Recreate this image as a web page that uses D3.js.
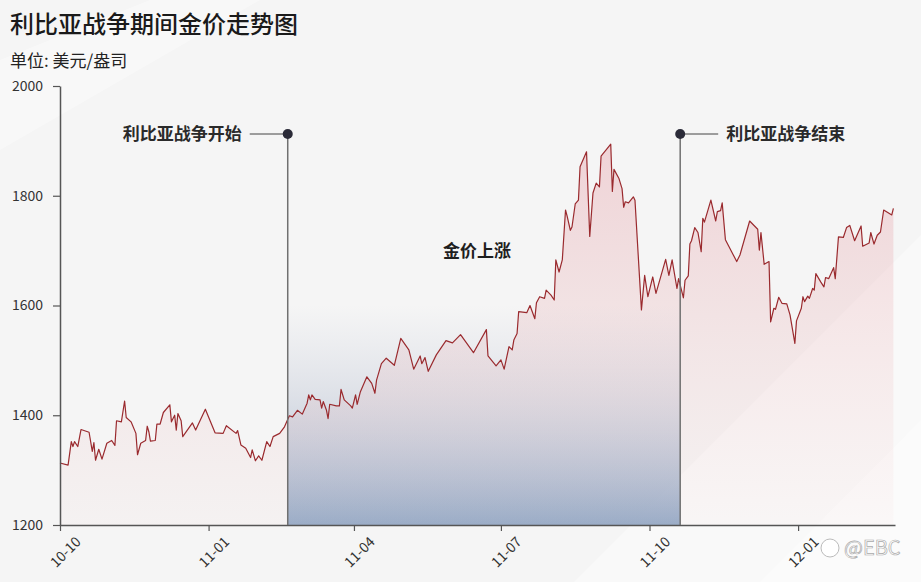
<!DOCTYPE html>
<html><head><meta charset="utf-8">
<script src="https://cdn.jsdelivr.net/npm/d3@7"></script>
<style>
html,body{margin:0;padding:0;background:#f6f6f6;}
svg{display:block;font-family:"Noto Sans CJK SC","Noto Sans",sans-serif;}
</style></head>
<body><svg id="c" width="921" height="582"></svg>
<script>
const title = "利比亚战争期间金价走势图";
const subtitle = "单位: 美元/盎司";
const dates = ["2010-10-01","2010-10-06","2010-10-08","2010-10-09","2010-10-10","2010-10-12","2010-10-14","2010-10-19","2010-10-21","2010-10-22","2010-10-23","2010-10-25","2010-10-27","2010-10-30","2010-11-02","2010-11-04","2010-11-05","2010-11-08","2010-11-10","2010-11-11","2010-11-14","2010-11-17","2010-11-18","2010-11-20","2010-11-23","2010-11-24","2010-11-25","2010-11-26","2010-11-29","2010-11-30","2010-12-02","2010-12-04","2010-12-08","2010-12-09","2010-12-11","2010-12-12","2010-12-13","2010-12-15","2010-12-16","2010-12-22","2010-12-24","2010-12-30","2011-01-05","2011-01-10","2011-01-12","2011-01-18","2011-01-19","2011-01-21","2011-01-24","2011-01-27","2011-01-28","2011-01-30","2011-02-01","2011-02-03","2011-02-06","2011-02-08","2011-02-10","2011-02-14","2011-02-17","2011-02-20","2011-02-22","2011-02-25","2011-02-28","2011-03-03","2011-03-04","2011-03-05","2011-03-06","2011-03-08","2011-03-11","2011-03-12","2011-03-13","2011-03-15","2011-03-16","2011-03-17","2011-03-21","2011-03-23","2011-03-24","2011-03-26","2011-03-30","2011-03-31","2011-04-02","2011-04-03","2011-04-05","2011-04-09","2011-04-12","2011-04-14","2011-04-15","2011-04-18","2011-04-21","2011-04-26","2011-04-30","2011-05-05","2011-05-08","2011-05-12","2011-05-13","2011-05-15","2011-05-17","2011-05-22","2011-05-28","2011-06-01","2011-06-06","2011-06-14","2011-06-22","2011-06-23","2011-06-28","2011-07-01","2011-07-03","2011-07-06","2011-07-08","2011-07-09","2011-07-11","2011-07-12","2011-07-17","2011-07-19","2011-07-22","2011-07-23","2011-07-25","2011-07-28","2011-07-29","2011-08-01","2011-08-03","2011-08-04","2011-08-06","2011-08-08","2011-08-10","2011-08-11","2011-08-13","2011-08-14","2011-08-16","2011-08-18","2011-08-19","2011-08-23","2011-08-25","2011-08-27","2011-08-29","2011-08-31","2011-09-01","2011-09-07","2011-09-08","2011-09-09","2011-09-12","2011-09-14","2011-09-15","2011-09-16","2011-09-18","2011-09-21","2011-09-22","2011-09-26","2011-09-28","2011-09-30","2011-10-03","2011-10-05","2011-10-11","2011-10-13","2011-10-15","2011-10-18","2011-10-19","2011-10-22","2011-10-23","2011-10-25","2011-10-26","2011-10-27","2011-10-29","2011-10-31","2011-11-02","2011-11-03","2011-11-04","2011-11-08","2011-11-11","2011-11-12","2011-11-14","2011-11-15","2011-11-17","2011-11-24","2011-11-26","2011-12-02","2011-12-07","2011-12-08","2011-12-09","2011-12-11","2011-12-14","2011-12-15","2011-12-17","2011-12-18","2011-12-20","2011-12-22","2011-12-25","2011-12-27","2011-12-30","2011-12-31","2012-01-03","2012-01-04","2012-01-05","2012-01-07","2012-01-08","2012-01-10","2012-01-11","2012-01-12","2012-01-15","2012-01-17","2012-01-18","2012-01-20","2012-01-23","2012-01-24","2012-01-26","2012-01-29","2012-01-31","2012-02-02","2012-02-05","2012-02-09","2012-02-10","2012-02-14","2012-02-15","2012-02-17","2012-02-19","2012-02-21","2012-02-23","2012-02-28","2012-02-29"];
const prices = [1313,1309,1352,1343,1352,1343,1374,1369,1334,1350,1318,1338,1320,1349,1354,1345,1390,1388,1426,1396,1388,1367,1328,1349,1354,1380,1370,1353,1354,1384,1384,1405,1419,1388,1400,1373,1403,1390,1361,1386,1373,1411,1368,1367,1381,1367,1372,1346,1340,1323,1337,1317,1326,1318,1352,1343,1361,1367,1379,1399,1397,1409,1402,1422,1437,1428,1437,1429,1428,1413,1425,1409,1394,1420,1417,1417,1447,1428,1417,1413,1437,1420,1443,1470,1458,1440,1464,1494,1504,1491,1540,1519,1484,1508,1494,1505,1480,1510,1536,1532,1547,1514,1556,1508,1490,1501,1484,1525,1519,1537,1549,1589,1587,1600,1576,1605,1616,1613,1628,1619,1610,1683,1661,1683,1774,1763,1737,1743,1785,1792,1853,1880,1726,1805,1823,1816,1872,1894,1808,1848,1832,1813,1779,1789,1787,1798,1792,1592,1655,1616,1652,1622,1684,1655,1683,1631,1649,1614,1646,1654,1712,1718,1742,1733,1698,1759,1752,1792,1754,1771,1773,1787,1720,1680,1692,1754,1739,1701,1733,1675,1680,1570,1595,1593,1615,1604,1603,1583,1531,1572,1595,1616,1607,1617,1613,1631,1628,1658,1643,1634,1651,1649,1669,1649,1725,1724,1742,1746,1718,1745,1708,1714,1733,1712,1728,1734,1774,1765,1777];
const yTicks = [1200,1400,1600,1800,2000];
const xTickDates = ["2010-10-01","2011-01-01","2011-04-01","2011-07-01","2011-10-01","2012-01-01"];
const xTickLabels = ["10-10","11-01","11-04","11-07","11-10","12-01"];
const eventDates = ["2011-02-19","2011-10-20"];
const eventLabels = ["利比亚战争开始","利比亚战争结束"];
const midLabel = "金价上涨";
const watermark = "@EBC";

const parse = d3.timeParse("%Y-%m-%d");
const data = dates.map((d,i)=>({date:parse(d), v:prices[i]}));

const svg = d3.select("#c");
const W = 921, H = 582;
const x = d3.scaleTime().domain([parse("2010-10-01"), parse("2012-03-01")]).range([60, 895]);
const y = d3.scaleLinear().domain([1200, 2000]).range([525, 86]);

const defs = svg.append("defs");
const gBlue = defs.append("linearGradient").attr("id","gb").attr("gradientUnits","userSpaceOnUse")
  .attr("x1",0).attr("x2",0).attr("y1",305).attr("y2",525);
gBlue.append("stop").attr("offset",0).attr("stop-color","#d0d4e0").attr("stop-opacity",0);
gBlue.append("stop").attr("offset",0.4).attr("stop-color","#c8cedb").attr("stop-opacity",0.5);
gBlue.append("stop").attr("offset",1).attr("stop-color","#93a9c6").attr("stop-opacity",0.95);

const gPink = defs.append("linearGradient").attr("id","gp").attr("gradientUnits","userSpaceOnUse")
  .attr("x1",0).attr("x2",0).attr("y1",140).attr("y2",525);
gPink.append("stop").attr("offset",0).attr("stop-color","#e07a86").attr("stop-opacity",0.28);
gPink.append("stop").attr("offset",1).attr("stop-color","#e8a0a0").attr("stop-opacity",0.04);

// background
svg.append("rect").attr("width",W).attr("height",H).attr("fill","#f5f5f5");
svg.append("polygon").attr("points","0,150 0,60 150,0 260,0").attr("fill","#ffffff").attr("opacity",0.35);
svg.append("polygon").attr("points","921,235 921,582 574,582").attr("fill","#ffffff").attr("opacity",0.4);
svg.append("polygon").attr("points","921,420 921,582 760,582").attr("fill","#ffffff").attr("opacity",0.35);

// war period band
const xs = x(parse(eventDates[0])), xe = x(parse(eventDates[1]));
svg.append("rect").attr("x",xs).attr("y",305).attr("width",xe-xs).attr("height",525-305).attr("fill","url(#gb)");

// area and line
const area = d3.area().x(d=>x(d.date)).y0(y(1200)).y1(d=>y(d.v));
svg.append("path").datum(data).attr("d",area).attr("fill","url(#gp)");
const line = d3.line().x(d=>x(d.date)).y(d=>y(d.v));
svg.append("path").datum(data).attr("d",line).attr("fill","none").attr("stroke","#9a2a2e").attr("stroke-width",1.2).attr("stroke-linejoin","round");

// axes
const yAxis = d3.axisLeft(y).tickValues(yTicks).tickSize(7).tickSizeOuter(0).tickPadding(10).tickFormat(d3.format("d"));
const gy = svg.append("g").attr("transform","translate(60,0)").call(yAxis);
gy.select(".domain").attr("stroke","#555").attr("stroke-width",1.5);
gy.selectAll(".tick line").attr("stroke","#555").attr("stroke-width",1.2);
gy.selectAll(".tick text").attr("fill","#333").style("font-size","14px").style("font-family","'Noto Sans CJK SC',sans-serif");

const xAxis = d3.axisBottom(x).tickValues(xTickDates.map(parse)).tickSize(6).tickSizeOuter(0)
  .tickFormat((d,i)=>xTickLabels[i]);
const gx = svg.append("g").attr("transform","translate(0,525)").call(xAxis);
gx.select(".domain").attr("stroke","#555").attr("stroke-width",1.5);
gx.selectAll(".tick line").attr("stroke","#555").attr("stroke-width",1.2);
gx.selectAll(".tick text").attr("fill","#333").style("font-size","14px").style("font-family","'Noto Sans CJK SC',sans-serif")
  .attr("text-anchor","middle").attr("y",0).attr("dy","0.35em")
  .attr("transform","translate(5,27) rotate(-45)");

// event markers
const evY = 134;
eventDates.forEach((ds,i)=>{
  const ex = x(parse(ds));
  svg.append("line").attr("x1",ex).attr("x2",ex).attr("y1",evY).attr("y2",525).attr("stroke","#707070").attr("stroke-width",1.5);
  const dir = i===0 ? -1 : 1;
  svg.append("line").attr("x1",ex).attr("x2",ex+dir*38).attr("y1",evY).attr("y2",evY).attr("stroke","#444").attr("stroke-width",1);
  svg.append("circle").attr("cx",ex).attr("cy",evY).attr("r",5).attr("fill","#2b2b38");
  svg.append("text").attr("x",ex+dir*46).attr("y",evY).attr("dy","0.35em")
    .attr("text-anchor", i===0 ? "end" : "start")
    .style("font-size","17px").style("font-weight","bold").attr("fill","#2a2a2a").text(eventLabels[i]);
});
svg.append("text").attr("x",(xs+xe)/2 - 7).attr("y",251).attr("dy","0.35em").attr("text-anchor","middle")
  .style("font-size","17px").style("font-weight","bold").attr("fill","#1e1e1e").text(midLabel);

// titles
svg.append("text").attr("x",10).attr("y",33).style("font-size","24px").style("font-weight","500").attr("fill","#1a1a1a").text(title);
svg.append("text").attr("x",10).attr("y",67).style("font-size","17px").attr("fill","#222").text(subtitle);

// watermark
const wm = svg.append("g").attr("transform","translate(838,548)");
wm.append("circle").attr("cx",-8).attr("cy",0).attr("r",9).attr("fill","#fff").attr("stroke","#bbb").attr("stroke-width",1);
wm.append("text").attr("x",6).attr("y",0).attr("dy","0.35em").style("font-size","20px").attr("fill","#fff").attr("stroke","#aaa").attr("stroke-width",0.7).text(watermark);
</script>
</body></html>
